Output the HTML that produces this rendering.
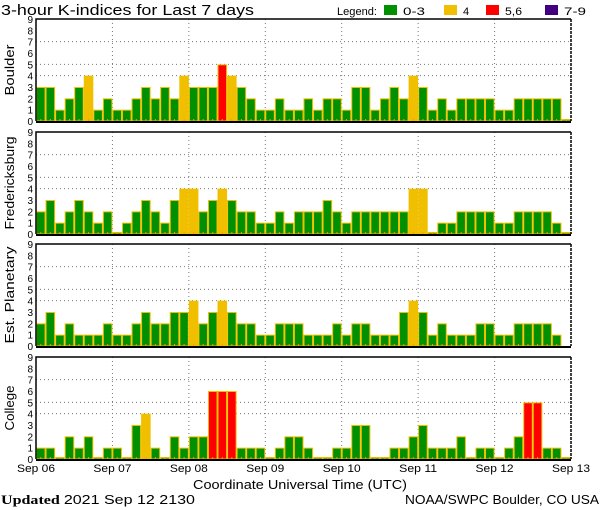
<!DOCTYPE html>
<html><head><meta charset="utf-8"><style>
html,body{margin:0;padding:0;background:#fff;width:600px;height:510px;overflow:hidden}
svg{display:block;font-family:"Liberation Sans",sans-serif}
</style></head><body>
<svg id="c" width="600" height="510" viewBox="0 0 600 510">
<text x="1" y="15" font-size="15" textLength="253" lengthAdjust="spacingAndGlyphs">3-hour K-indices for Last 7 days</text>
<g font-size="11">
<text x="337" y="15" textLength="40" lengthAdjust="spacingAndGlyphs">Legend:</text>
<rect x="384" y="5" width="13" height="10" fill="#009000"/>
<text x="403" y="15" textLength="22" lengthAdjust="spacingAndGlyphs">0-3</text>
<rect x="444" y="5" width="13" height="10" fill="#f0c000"/>
<text x="463" y="15">4</text>
<rect x="486" y="5" width="13" height="10" fill="#ff0000"/>
<text x="505" y="15" textLength="17" lengthAdjust="spacingAndGlyphs">5,6</text>
<rect x="545" y="5" width="13" height="10" fill="#400080"/>
<text x="564" y="15" textLength="22" lengthAdjust="spacingAndGlyphs">7-9</text>
</g>
<text x="193" y="489" font-size="13" textLength="214" lengthAdjust="spacingAndGlyphs">Coordinate Universal Time (UTC)</text>
<text x="1" y="504" font-size="13" textLength="194" lengthAdjust="spacingAndGlyphs" font-family="Liberation Serif,serif"><tspan font-weight="bold">Updated</tspan> <tspan font-family="Liberation Sans,sans-serif">2021 Sep 12 2130</tspan></text>
<text x="405" y="504" font-size="13" textLength="194" lengthAdjust="spacingAndGlyphs">NOAA/SWPC Boulder, CO USA</text>
</svg>
<script>
const stations = ["Boulder","Fredericksburg","Est. Planetary","College"];
const boulder = [3,3,1,2,3,4,1,2, 1,1,2,3,2,3,2,4, 3,3,3,5,4,3,2,1, 1,2,1,1,2,1,2,2, 1,3,3,1,2,3,2,4, 3,1,2,1,2,2,2,2, 1,1,2,2,2,2,2,0];
const fredericksburg = [2,3,1,2,3,2,1,2, 0,1,2,3,2,1,3,4, 4,2,3,4,3,2,2,1, 1,2,1,2,2,2,3,2, 1,2,2,2,2,2,2,4, 4,0,1,1,2,2,2,2, 1,1,2,2,2,2,1,0];
const planetary = [2,3,1,2,1,1,1,2, 1,1,2,3,2,2,3,3, 4,2,3,4,3,2,2,1, 1,2,2,2,1,1,1,2, 1,2,2,1,1,1,3,4, 3,1,2,1,1,1,2,2, 1,1,2,2,2,2,1,null];
const college = [1,1,0,2,1,2,0,1, 1,0,3,4,1,0,2,1, 2,2,6,6,6,1,1,1, 0,1,2,2,1,0,0,1, 1,3,3,0,0,1,1,2, 3,1,1,1,2,0,1,1, 0,1,2,5,5,1,1,0];
const dayLabels = ["Sep 06","Sep 07","Sep 08","Sep 09","Sep 10","Sep 11","Sep 12","Sep 13"];
const yTicks = [0,1,2,3,4,5,6,7,8,9];
const gridLevels = [4,5,7];
const titleLens = [51,93,97,45];

const series=[boulder,fredericksburg,planetary,college];
const tops=[19,132,244,357], PH=102, X0=36, X1=571, N=56;
const svg=document.getElementById('c'), NS='http://www.w3.org/2000/svg';
function mk(t,a,p){const e=document.createElementNS(NS,t);for(const k in a)e.setAttribute(k,a[k]);(p||svg).appendChild(e);return e;}
const xs=i=>X0+(X1-X0)*i/N;
function color(v){return v<=3?'#009000':v==4?'#f0c000':v<=6?'#ff0000':'#400080';}
series.forEach((data,p)=>{
  const top=tops[p], bot=top+PH, ys=v=>bot-PH*v/9;
  const g=mk('g',{});
  
  
  gridLevels.forEach(l=>{const ln=mk('line',{x1:X0,x2:X1,y1:ys(l),y2:ys(l),stroke:'#777','stroke-dasharray':'1,3'},g);
    });
  for(let d=1;d<7;d++){const ln=mk('line',{x1:xs(d*8),x2:xs(d*8),y1:top,y2:bot,stroke:'#777','stroke-dasharray':'1,3'},g);
    }
  data.forEach((v,i)=>{
    if(v===null||v===undefined)return;
    const x=xs(i), w=xs(i+1)-x, y=v===0?bot-2:ys(v), h=bot-y;
    const r=mk('rect',{x:x+0.5,y:y+0.5,width:w-1,height:Math.max(h-0.5,1),fill:color(v),stroke:'#f0c000','stroke-width':1},g);
    
    
    const t=mk('rect',{x:x+w/2-0.5,y:bot-2,width:1,height:2,fill:'#f0a000'},g);
    
    
  });
  const ax=mk('path',{d:`M${X0},${bot} V${top} H${X1}`,stroke:'#000','stroke-width':1.5,fill:'none'},g);
  
  const bx=mk('line',{x1:X0,x2:X1,y1:bot+1,y2:bot+1,stroke:'#000','stroke-width':2},g);
  
  const rx=mk('line',{x1:X1,x2:X1,y1:top,y2:bot,stroke:'#000','stroke-width':1.5,'stroke-dasharray':'3,1'},g);
  
  yTicks.forEach(t=>{const tx=mk('text',{x:33,y:ys(t)+4,'font-size':10,'text-anchor':'end'},g);tx.textContent=t;
    });
  const yt=mk('text',{x:0,y:0,'font-size':13,'text-anchor':'middle',textLength:titleLens[p],lengthAdjust:'spacingAndGlyphs',transform:`translate(14,${top+PH/2}) rotate(-90)`},g);
  yt.textContent=stations[p];
  
  
});
dayLabels.forEach((s,d)=>{const t=mk('text',{x:xs(d*8),y:472,'font-size':11,'text-anchor':'middle',textLength:38,lengthAdjust:'spacingAndGlyphs'});t.textContent=s;
  });
</script>
</body></html>
